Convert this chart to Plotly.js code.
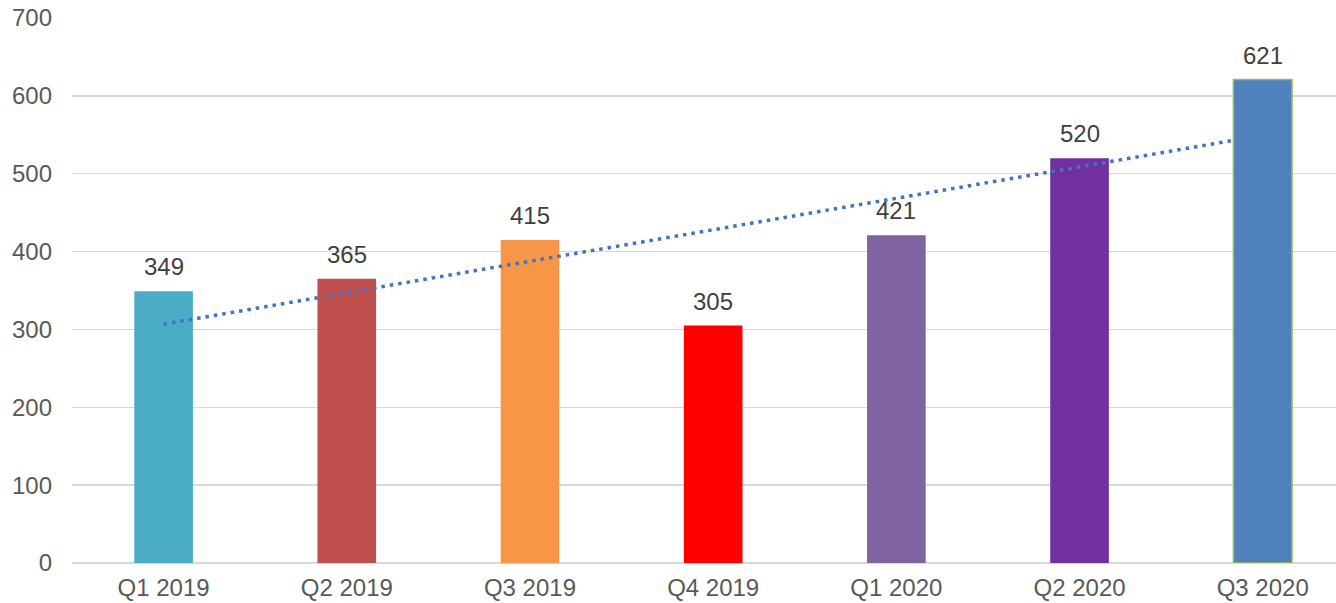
<!DOCTYPE html>
<html>
<head>
<meta charset="utf-8">
<script src="https://cdn.plot.ly/plotly-3.0.1.min.js"></script>
<style>html,body{margin:0;padding:0;background:#fff;}#chart{width:1336px;height:603px;}</style>
</head>
<body>
<div id="chart"></div>
<script>
const categories = ["Q1 2019","Q2 2019","Q3 2019","Q4 2019","Q1 2020","Q2 2020","Q3 2020"];
const values = [349, 365, 415, 305, 421, 520, 621];
const barColors = ["#4BACC6","#C0504D","#F79646","#FF0000","#8064A2","#7030A0","#4F81BD"];
const barOutline = ["rgba(0,0,0,0)","rgba(0,0,0,0)","rgba(0,0,0,0)","rgba(0,0,0,0)","rgba(0,0,0,0)","rgba(0,0,0,0)","#9BBB59"];
const yTicks = [0,100,200,300,400,500,600,700];

// linear trendline (least squares) over category index
const n = values.length;
const xs = values.map((_, i) => i);
const mx = xs.reduce((a,b)=>a+b,0)/n;
const my = values.reduce((a,b)=>a+b,0)/n;
let sxy = 0, sxx = 0;
for (let i=0;i<n;i++){ sxy += (xs[i]-mx)*(values[i]-my); sxx += (xs[i]-mx)**2; }
const slope = sxy/sxx, icpt = my - slope*mx;
const barWidth = 0.32;
const trendX = [0, (n-1) - barWidth/2];
const trendY = trendX.map(x => icpt + slope*x);

const FONT = 'Liberation Sans, Arial, sans-serif';

const bars = {
  type: 'bar',
  x: xs,
  y: values,
  width: barWidth,
  marker: {color: barColors, line: {color: barOutline, width: 1.5}},
  hoverinfo: 'none'
};
const trend = {
  type: 'scatter',
  mode: 'lines',
  x: trendX,
  y: trendY,
  line: {color: '#4472C4', width: 3.5, dash: '3.5px,5px'},
  hoverinfo: 'none'
};

const annotations = values.map((v, i) => ({
  x: xs[i], y: v, xref: 'x', yref: 'y',
  text: String(v), showarrow: false,
  yanchor: 'bottom', xanchor: 'center', yshift: 9,
  font: {family: FONT, size: 24, color: '#404040'}
}));

const layout = {
  width: 1336, height: 603,
  margin: {l: 72, r: 0, t: 18, b: 40},
  showlegend: false,
  paper_bgcolor: '#fff', plot_bgcolor: '#fff',
  font: {family: FONT, size: 24, color: '#595959'},
  annotations: annotations,
  xaxis: {
    range: [-0.5, 6.4],
    tickmode: 'array', tickvals: xs, ticktext: categories,
    showgrid: false, zeroline: false, showline: false, ticks: '',
    ticklabelstandoff: 8,
    tickfont: {size: 24, color: '#595959'}
  },
  yaxis: {
    range: [0, 700],
    tickmode: 'array', tickvals: yTicks,
    showgrid: true, gridcolor: '#D9D9D9', gridwidth: 1.5,
    zeroline: true, zerolinecolor: '#D9D9D9', zerolinewidth: 1.5,
    showline: false, ticks: '',
    ticklabelstandoff: 19,
    tickfont: {size: 24, color: '#595959'}
  },
  bargap: 0
};

Plotly.newPlot('chart', [bars, trend], layout, {displayModeBar: false, staticPlot: true});
</script>
</body>
</html>
